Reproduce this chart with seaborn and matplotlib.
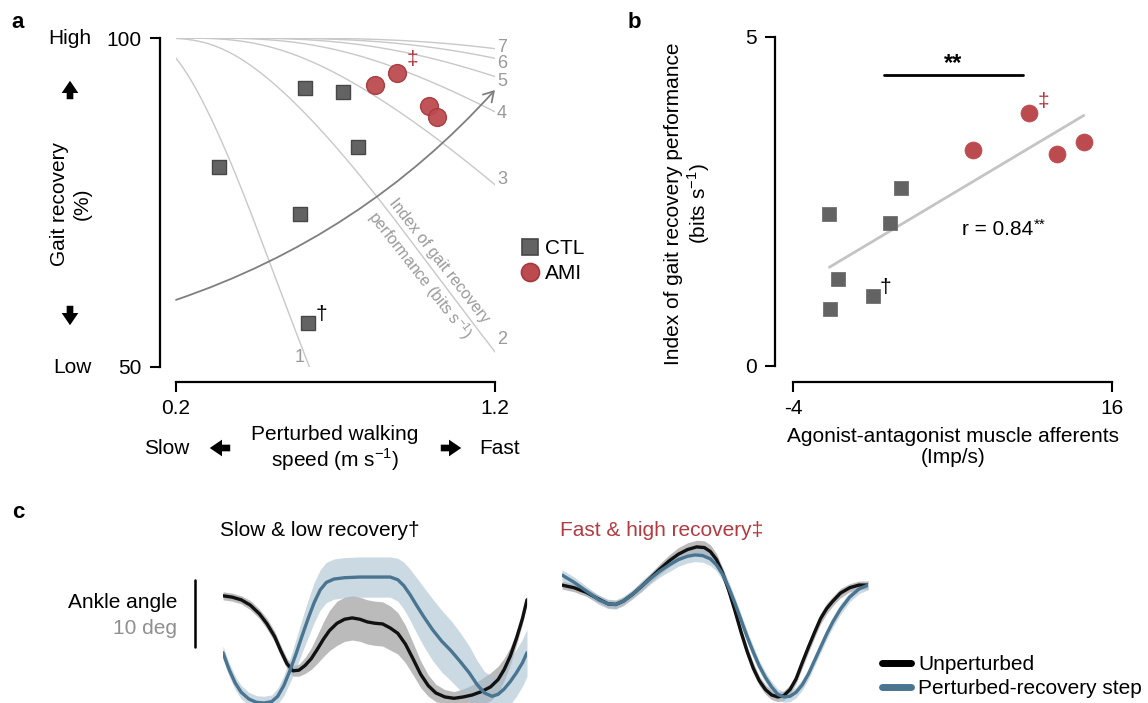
import numpy as np
import pandas as pd
import matplotlib
matplotlib.use("Agg")
import matplotlib.pyplot as plt
from matplotlib.lines import Line2D
import seaborn as sns

# ---------------- data: panel a ----------------
ctl_speed = [0.335, 0.604, 0.724, 0.770, 0.589, 0.614]
ctl_recovery = [80.4, 92.4, 91.8, 83.4, 73.3, 56.7]
ami_speed = [0.824, 0.893, 0.993, 1.018]
ami_recovery = [92.9, 94.7, 89.7, 88.0]
index_levels = [1, 2, 3, 4, 5, 6, 7]          # bits/s iso-lines
# iso-line model: index = speed * g(u), u = log2(1/(1-R)); g smooth two-slope in u
iso_offset, iso_slope_low, iso_slope_high, iso_knee_u, iso_knee_w = 0.895, 0.715, 0.9, 2.245, 0.5

# ---------------- data: panel b ----------------
ctl_afferents = [-1.72, -1.17, -1.65, 1.01, 2.08, 2.77]
ctl_index = [2.31, 1.32, 0.87, 1.06, 2.17, 2.70]
ami_afferents = [7.29, 10.82, 12.55, 14.23]
ami_index = [3.29, 3.84, 3.22, 3.40]

# ---------------- data: panel c (gait cycle %, ankle angle deg) ----------------
slow_unp_t = [0, 3, 6, 9, 12, 14.5, 17, 19, 21, 23, 25, 27, 29, 31, 33, 35, 37.5, 40, 42.5,
              45, 47.5, 50, 52.5, 55, 57.5, 60, 62.5, 65, 67.5, 70, 73, 76, 79, 82, 85,
              88, 90.5, 92.5, 94.5, 96.5, 98.5, 100]
slow_unp_y = [16.0, 15.8, 15.4, 14.6, 13.3, 11.8, 9.9, 7.8, 5.9, 4.8, 4.9, 5.6, 6.6, 8.0,
              9.5, 10.8, 11.9, 12.5, 12.7, 12.5, 12.1, 11.9, 11.8, 11.2, 10.4, 8.8, 6.6,
              4.3, 2.6, 1.5, 0.9, 0.7, 0.9, 1.2, 1.7, 2.4, 3.5, 5.0, 7.0, 9.6, 12.6, 15.4]
slow_unp_sd = [0.6, 0.6, 0.6, 0.7, 0.7, 0.8, 0.8, 0.8, 0.8, 0.8, 0.9, 1.2, 1.6, 2.1, 2.6,
               3.0, 3.3, 3.3, 3.3, 3.3, 3.3, 3.3, 3.3, 3.3, 3.1, 2.8, 2.4, 2.0, 1.6, 1.3,
               1.1, 1.0, 1.2, 1.5, 1.9, 2.1, 2.0, 1.7, 1.3, 1.0, 0.8, 0.6]
slow_per_t = [0, 2, 4, 6, 8.5, 11, 13.5, 16, 18, 20, 22, 24, 26, 28, 30, 32, 34, 36.5, 40,
              45, 50, 55, 57.5, 59.5, 61.5, 63.5, 66, 69, 72, 75, 78, 81, 83.5, 86, 88.5,
              90.5, 92.5, 94.5, 96.5, 98.5, 100]
slow_per_y = [7.5, 5.0, 3.0, 1.6, 0.6, 0.1, 0.0, 0.2, 1.0, 2.6, 4.8, 7.3, 10.0, 12.6, 15.0,
              16.9, 18.0, 18.5, 18.7, 18.8, 18.8, 18.8, 18.4, 17.5, 16.2, 14.7, 12.9, 10.9,
              9.2, 7.8, 6.2, 4.5, 2.8, 1.5, 1.0, 1.3, 2.1, 3.2, 4.5, 6.0, 7.5]
slow_per_sd = [1.0, 1.0, 1.0, 1.0, 1.0, 1.0, 1.0, 1.0, 1.2, 1.5, 1.8, 2.2, 2.5, 2.8, 3.0,
               3.0, 3.0, 3.0, 3.0, 3.0, 3.0, 3.0, 3.2, 3.5, 3.8, 4.1, 4.4, 4.6, 4.6, 4.5,
               4.3, 4.0, 3.6, 3.2, 3.0, 3.0, 3.2, 3.4, 3.5, 3.5, 3.5]
fast_unp_t = [0, 4, 8, 12, 15, 17.5, 20, 23, 26, 29, 32, 35, 38, 41, 44, 46.5, 48.5, 50.5,
              52.5, 54.5, 56.5, 58.5, 60.5, 62.5, 64.5, 66.5, 68.5, 70.5, 72.5, 74.5, 76.5,
              78.5, 80.5, 82.5, 84.5, 86.5, 88.5, 91, 94, 97, 100]
fast_unp_y = [17.6, 17.2, 16.5, 15.5, 14.8, 14.7, 15.2, 16.2, 17.4, 18.7, 20.0, 21.2, 22.2,
              22.9, 23.3, 23.2, 22.6, 21.4, 19.4, 16.8, 13.8, 10.6, 7.7, 5.2, 3.3, 2.0,
              1.2, 0.9, 1.1, 2.0, 3.6, 6.0, 8.3, 10.5, 12.6, 14.1, 15.2, 16.4, 17.2, 17.6,
              17.6]
fast_unp_sd = [0.6, 0.6, 0.6, 0.6, 0.6, 0.6, 0.6, 0.6, 0.7, 0.7, 0.8, 0.9, 1.0, 1.0, 1.0,
               1.0, 1.0, 0.9, 0.8, 0.8, 0.8, 0.8, 0.8, 0.8, 0.7, 0.7, 0.7, 0.7, 0.7, 0.7,
               0.7, 0.8, 0.8, 0.8, 0.8, 0.8, 0.7, 0.7, 0.6, 0.6, 0.6]
fast_per_t = [0, 4, 8, 12, 15, 17.5, 20, 23, 26, 29, 32, 35, 38, 41, 43.5, 46, 48.5, 50.5,
              52.5, 54.5, 56.5, 58.5, 60.5, 62.5, 64.5, 66.5, 68.5, 70.5, 72.5, 74.5, 76.5,
              78.5, 80.5, 82.5, 84.5, 86.5, 88.5, 91, 94, 97, 100]
fast_per_y = [19.1, 18.0, 16.7, 15.4, 14.8, 14.7, 15.2, 16.2, 17.4, 18.6, 19.7, 20.6, 21.4,
              21.9, 22.1, 22.0, 21.5, 20.6, 19.2, 17.2, 14.9, 12.4, 9.9, 7.6, 5.5, 3.8,
              2.4, 1.3, 0.9, 1.0, 1.6, 2.7, 4.3, 6.3, 8.3, 10.3, 12.1, 14.0, 15.8, 17.0,
              17.6]
fast_per_sd = [0.8, 0.8, 0.7, 0.7, 0.7, 0.7, 0.7, 0.7, 0.8, 0.8, 0.9, 1.0, 1.0, 1.0, 1.0,
               1.0, 1.0, 0.9, 0.9, 0.9, 0.9, 0.9, 0.9, 0.9, 0.8, 0.8, 0.8, 0.8, 0.8, 0.8,
               0.8, 0.8, 0.8, 0.8, 0.8, 0.8, 0.8, 0.8, 0.7, 0.7, 0.7]

# ---------------- style ----------------
sns.set_theme(style="ticks")
plt.rcParams["font.family"] = ["Liberation Sans", "DejaVu Sans"]
plt.rcParams["mathtext.fontset"] = "custom"
plt.rcParams["mathtext.rm"] = "Liberation Sans"
plt.rcParams["axes.edgecolor"] = "black"
plt.rcParams["xtick.color"] = "black"
plt.rcParams["ytick.color"] = "black"
plt.rcParams["text.color"] = "black"

GRAY_SQ, GRAY_SQ_E = "#636363", "#474747"
RED, RED_E = "#bc4b50", "#a8383d"
RED_TXT = "#b23a40"
BLUE, BLUE_BAND = "#4a7591", "#a9c0cf"
FS = 15

W, H = 1148, 703
fig = plt.figure(figsize=(W / 100, H / 100), dpi=100)


def fx(px):
    return px / W


def fy(py):
    return 1 - py / H


def rect(x0, x1, ytop, ybot):
    return [fx(x0), fy(ybot), (x1 - x0) / W, (ybot - ytop) / H]


def arrow(x0, y0, x1, y1):
    fig.add_artist(matplotlib.patches.FancyArrowPatch(
        (fx(x0), fy(y0)), (fx(x1), fy(y1)), transform=fig.transFigure,
        arrowstyle="simple,head_length=0.55,head_width=0.75,tail_width=0.3",
        mutation_scale=16, color="black", lw=0))


# ================= panel a =================
axA = fig.add_axes(rect(176, 495, 38, 367))
u = np.geomspace(0.5, 60, 4000)
R = 100 * (1 - 2.0 ** (-u))
g = (iso_offset + iso_slope_low * u
     + (iso_slope_high - iso_slope_low) * iso_knee_w
     * np.logaddexp(0, (u - iso_knee_u) / iso_knee_w))
for lev in index_levels:
    spd = lev / g
    keep = (spd >= 0.19) & (spd <= 1.21)
    sns.lineplot(x=spd[keep], y=R[keep], ax=axA, color="#c8c8c8", lw=1.0, zorder=1,
                 sort=False, estimator=None)

axA.annotate("", xy=(1.2, 92.1), xytext=(0.2, 60.2),
             arrowprops=dict(arrowstyle="->,head_length=0.5,head_width=0.3",
                             connectionstyle="arc3,rad=0.13", color="#7f7f7f",
                             lw=1.3, shrinkA=0, shrinkB=0, mutation_scale=14),
             annotation_clip=False)

sns.scatterplot(x=ctl_speed, y=ctl_recovery, ax=axA, marker="s", s=110,
                color=GRAY_SQ, edgecolor=GRAY_SQ_E, linewidth=1, zorder=3)
sns.scatterplot(x=ami_speed, y=ami_recovery, ax=axA, marker="o", s=165,
                color=RED, edgecolor=RED_E, linewidth=1, alpha=0.95, zorder=4)

axA.set_xlim(0.2, 1.2)
axA.set_ylim(50, 100)
axA.set_xticks([0.2, 1.2])
axA.set_xticklabels(["0.2", "1.2"])
axA.set_yticks([50, 100])
axA.set_yticklabels(["50", "100"])
axA.tick_params(labelsize=FS, length=7, width=1.5)
axA.tick_params(axis="y", pad=6)
axA.tick_params(axis="x", pad=5)
sns.despine(ax=axA, offset={"left": 11.5, "bottom": 10.8})
for s in ["left", "bottom"]:
    axA.spines[s].set_linewidth(1.6)
axA.set_xlabel("")
axA.set_ylabel("")

# iso-line labels
lab_pos = {7: (497, 47), 6: (497, 64), 5: (497, 82), 4: (497, 113), 3: (497, 180), 2: (497, 340)}
for k, (px, py) in lab_pos.items():
    fig.text(fx(px), fy(py), str(k), color="#9a9a9a", fontsize=13, ha="left", va="center")
fig.text(fx(300), fy(358), "1", color="#9a9a9a", fontsize=13, ha="center", va="center")
fig.text(fx(428), fy(269), "Index of gait recovery\nperformance (bits s$^{\\mathregular{-1}}$)",
         color="#9a9a9a", fontsize=11.5, rotation=-52, ha="center", va="center",
         multialignment="center", rotation_mode="anchor", linespacing=1.35)
fig.text(fx(412), fy(60), "\u2021", color=RED_TXT, fontsize=FS, ha="center", va="center")
fig.text(fx(321), fy(315), "\u2020", color="black", fontsize=FS, ha="center", va="center")

fig.text(fx(18), fy(22), "a", fontsize=16, fontweight="bold", ha="center", va="center")
fig.text(fx(70), fy(39), "High", fontsize=FS, ha="center", va="center")
fig.text(fx(72), fy(368), "Low", fontsize=FS, ha="center", va="center")
fig.text(fx(71), fy(204), "Gait recovery\n(%)", fontsize=FS, rotation=90,
         ha="center", va="center", multialignment="center", linespacing=1.25)
arrow(70, 102, 70, 78)
arrow(70, 303, 70, 328)
arrow(233, 448, 207, 448)
arrow(438, 448, 464, 448)
fig.text(fx(167), fy(448), "Slow", fontsize=FS, ha="center", va="center")
fig.text(fx(500), fy(448), "Fast", fontsize=FS, ha="center", va="center")
fig.text(fx(335), fy(449), "Perturbed walking\nspeed (m s$^{\\mathregular{-1}}$)", fontsize=FS,
         ha="center", va="center", multialignment="center", linespacing=1.15)

legA = [Line2D([], [], marker="s", ls="", ms=11, mfc=GRAY_SQ, mec=GRAY_SQ_E, mew=1.2),
        Line2D([], [], marker="o", ls="", ms=13, mfc=RED, mec=RED_E, mew=1.2)]
fig.legend(legA, ["CTL", "AMI"], loc="center left", bbox_to_anchor=(fx(520), fy(261)),
           frameon=False, fontsize=FS, handlelength=1.0, handletextpad=0.2,
           labelspacing=0.3, borderpad=0, borderaxespad=0)

# ================= panel b =================
axB = fig.add_axes(rect(793, 1112, 37, 366))
all_x = ctl_afferents + ami_afferents
all_y = ctl_index + ami_index
sns.regplot(x=np.array(all_x), y=np.array(all_y), ax=axB, scatter=False, ci=None,
            truncate=True, color="#c4c4c4", line_kws={"lw": 2, "zorder": 1})
sns.scatterplot(x=ctl_afferents, y=ctl_index, ax=axB, marker="s", s=95,
                color=GRAY_SQ, edgecolor=GRAY_SQ, linewidth=0.5, zorder=3)
sns.scatterplot(x=ami_afferents, y=ami_index, ax=axB, marker="o", s=150,
                color=RED, edgecolor=RED, linewidth=0.5, zorder=4)
axB.set_xlim(-4, 16)
axB.set_ylim(0, 5)
axB.set_xticks([-4, 16])
axB.set_xticklabels(["-4", "16"])
axB.set_yticks([0, 5])
axB.set_yticklabels(["0", "5"])
axB.tick_params(labelsize=FS, length=7, width=1.5)
axB.tick_params(axis="y", pad=6)
axB.tick_params(axis="x", pad=5)
sns.despine(ax=axB, offset={"left": 13, "bottom": 11.5})
for s in ["left", "bottom"]:
    axB.spines[s].set_linewidth(1.6)
axB.set_xlabel("")
axB.set_ylabel("")
axB.plot([1.7, 10.4], [4.42, 4.42], color="black", lw=2, clip_on=False)
axB.text(6.05, 4.6, "**", fontsize=FS + 2, fontweight="bold", ha="center", va="center")
axB.text(6.6, 2.07, "r = 0.84", fontsize=FS, ha="left", va="center")
axB.text(11.1, 2.15, "**", fontsize=11, ha="left", va="center")
fig.text(fx(1043), fy(102), "\u2021", color=RED_TXT, fontsize=FS, ha="center", va="center")
fig.text(fx(885), fy(287), "\u2020", color="black", fontsize=FS, ha="center", va="center")

fig.text(fx(634), fy(22), "b", fontsize=16, fontweight="bold", ha="center", va="center")
fig.text(fx(688), fy(204), "Index of gait recovery performance\n(bits s$^{\\mathregular{-1}}$)",
         fontsize=FS, rotation=90, ha="center", va="center", multialignment="center",
         linespacing=1.15)
fig.text(fx(953), fy(447), "Agonist-antagonist muscle afferents\n(Imp/s)", fontsize=FS,
         ha="center", va="center", multialignment="center", linespacing=1.15)

# ================= panel c =================
def trace(ax, t, y, sd, color, band, band_alpha):
    t = np.array(t)
    y = np.array(y)
    sd = np.array(sd)
    ax.fill_between(t, y - sd, y + sd, color=band, alpha=band_alpha, lw=0, zorder=1)
    sns.lineplot(x=t, y=y, ax=ax, color=color, lw=2.4, zorder=2,
                 solid_joinstyle="round", solid_capstyle="round")


axC1 = fig.add_axes(rect(223, 527, 703 - 25 * 6.7, 703))
axC2 = fig.add_axes(rect(562, 868, 703 - 25 * 6.7, 703))
trace(axC1, slow_unp_t, slow_unp_y, slow_unp_sd, "#111111", "#8f8f8f", 0.6)
trace(axC1, slow_per_t, slow_per_y, slow_per_sd, BLUE, BLUE_BAND, 0.6)
trace(axC2, fast_unp_t, fast_unp_y, fast_unp_sd, "#111111", "#8f8f8f", 0.6)
trace(axC2, fast_per_t, fast_per_y, fast_per_sd, BLUE, BLUE_BAND, 0.6)
for ax in (axC1, axC2):
    ax.set_xlim(0, 100)
    ax.set_ylim(0, 25)
    ax.axis("off")
# 10 deg scale bar
axC1.plot([-9.2, -9.2], [8.4, 18.4], color="black", lw=1.8, clip_on=False)

fig.text(fx(18), fy(513), "c", fontsize=16, fontweight="bold", ha="center", va="center")
fig.text(fx(220), fy(530), "Slow & low recovery\u2020", fontsize=FS, ha="left", va="center")
fig.text(fx(560), fy(530), "Fast & high recovery\u2021", fontsize=FS, color=RED_TXT,
         ha="left", va="center")
fig.text(fx(177), fy(602), "Ankle angle", fontsize=FS, ha="right", va="center")
fig.text(fx(177), fy(629), "10 deg", fontsize=FS, color="#8f8f8f", ha="right", va="center")

legC = [Line2D([], [], color="black", lw=5), Line2D([], [], color=BLUE, lw=5)]
fig.legend(legC, ["Unperturbed", "Perturbed-recovery step"], loc="center left",
           bbox_to_anchor=(fx(882), fy(676.5)), frameon=False, fontsize=FS,
           handlelength=1.4, handletextpad=0.35, labelspacing=0.25, borderpad=0,
           borderaxespad=0)

fig.savefig("out.png", dpi=100)
